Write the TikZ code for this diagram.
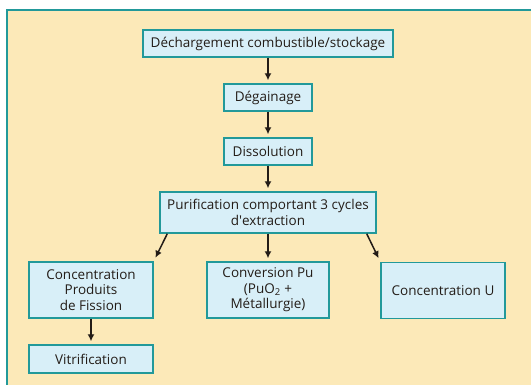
\documentclass[tikz,border=0pt]{standalone}
\usepackage{fontspec}
\setmainfont{Open Sans}
\usetikzlibrary{arrows.meta}
\definecolor{cream}{HTML}{FCE9B8}
\definecolor{teal2}{HTML}{22999A}
\definecolor{boxblue}{HTML}{D8EFF8}
\definecolor{ink}{HTML}{231C17}

\begin{document}
\begin{tikzpicture}[x=1pt,y=-1pt,
    etape/.style={draw=teal2, line width=1.4pt, fill=boxblue, text=ink,
      align=center, inner sep=1pt, font=\fontsize{13.5}{15.5}\selectfont},
    fleche/.style={-{Latex[length=7pt,width=7pt]}, line width=1.5pt, draw=ink, shorten >=3pt}]
  % fond et cadre
  \useasboundingbox (0,0) rectangle (531,385);
  \fill[cream] (7,10) rectangle (531,385);
  \draw[teal2, line width=1.3pt] (7,385) -- (7,10) -- (531,10);
  % etapes
  \node[etape, minimum width=250, minimum height=27] (decharge) at (268,43.5) {Déchargement combustible/stockage};
  \node[etape, minimum width=88, minimum height=27] (degainage) at (268,97.5) {Dégainage};
  \node[etape, minimum width=88, minimum height=27] (dissolution) at (268,151.5) {Dissolution};
  \node[etape, minimum width=216, minimum height=41] (purif) at (268,212.5) {Purification comportant 3 cycles\\d\textquotesingle extraction};
  \node[etape, minimum width=124, minimum height=56] (concpf) at (91,290) {Concentration\\Produits\\de Fission};
  \node[etape, minimum width=122, minimum height=56] (convpu) at (268,290) {Conversion Pu\\(PuO\textsubscript{2} +\\Métallurgie)};
  \node[etape, minimum width=124, minimum height=56] (concu) at (443,290.5) {Concentration U};
  \node[etape, minimum width=124, minimum height=28] (vitrif) at (91,359) {Vitrification};
  % fleches
  \draw[fleche] (decharge) -- (degainage);
  \draw[fleche] (degainage) -- (dissolution);
  \draw[fleche] (dissolution) -- (purif);
  \draw[fleche] (purif) -- (convpu);
  \draw[fleche, shorten >=4pt] ([xshift=8]purif.south west) -- (concpf.north east);
  \draw[fleche, shorten >=4pt] ([xshift=-10]purif.south east) -- (concu.north west);
  \draw[fleche] (concpf) -- (vitrif);
\end{tikzpicture}
\end{document}
